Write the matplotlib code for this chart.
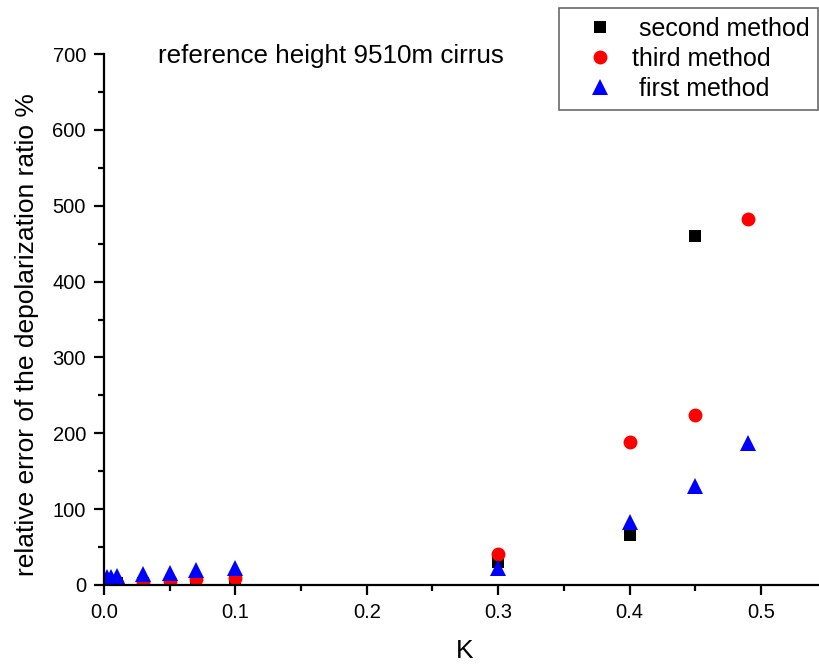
import numpy as np
import matplotlib
matplotlib.use("Agg")
import matplotlib.pyplot as plt

plt.rcParams["font.family"] = ["Liberation Sans", "DejaVu Sans"]

# ---------- data ----------
k_values = [0.002, 0.005, 0.01, 0.03, 0.05, 0.07, 0.1, 0.3, 0.4, 0.45, 0.49]
err_second = [2, 2, 2, 2, 2, 3, 4, 30, 66, 460, np.nan]
err_third = [2, 2, 3, 4, 5, 8, 9, 41, 188, 224, 483]
err_first = [10, 10, 12, 15, 16, 20, 22, 22, 83, 130, 187]

series = [
    (" second method", err_second, "s", "black", 8.8),
    ("third method", err_third, "o", "red", 10),
    (" first method", err_first, "^", "blue", 11.5),
]

# ---------- figure ----------
fig = plt.figure(figsize=(8.2, 6.66), dpi=100)
ax = fig.add_axes([104 / 820, 81 / 666, 716 / 820, 531 / 666])

handles = []
for label, vals, marker, color, size in series:
    h, = ax.plot(k_values, vals, linestyle="none", marker=marker, color=color,
                 markersize=size, markeredgewidth=0, label=label)
    handles.append(h)

ax.set_xlim(0, 0.545)
ax.set_ylim(0, 700)
ax.set_xticks(np.arange(0, 0.51, 0.1))
ax.set_xticks(np.arange(0.05, 0.55, 0.1), minor=True)
ax.set_yticks(np.arange(0, 701, 100))
ax.set_yticks(np.arange(50, 700, 100), minor=True)
ax.xaxis.set_major_formatter(matplotlib.ticker.FormatStrFormatter("%.1f"))

for side in ("top", "right"):
    ax.spines[side].set_visible(False)
for side in ("left", "bottom"):
    ax.spines[side].set_linewidth(1.6)

ax.tick_params(which="major", direction="out", length=7, width=1.6, labelsize=14.5, pad=6)
ax.tick_params(which="minor", direction="out", length=4, width=1.6)

fig.text(27 / 820, 1 - 335 / 666, "relative error of the depolarization ratio %",
         rotation=90, ha="center", va="center", fontsize=19)
fig.text(465 / 820, 1 - 651 / 666, "K", ha="center", va="center", fontsize=19)
fig.text(331 / 820, 1 - 63 / 666, "reference height 9510m cirrus",
         ha="center", va="baseline", fontsize=18.7)

leg = fig.legend(handles=handles, loc="upper right",
                 bbox_to_anchor=(818 / 820, 1 - 8 / 666), fontsize=18,
                 frameon=True, fancybox=False, borderpad=0.35,
                 handlelength=2.55, handletextpad=0.0, labelspacing=0.24,
                 borderaxespad=0)
leg.get_frame().set_edgecolor("#444444")
leg.get_frame().set_linewidth(1.2)

fig.savefig("out.png", dpi=100)
